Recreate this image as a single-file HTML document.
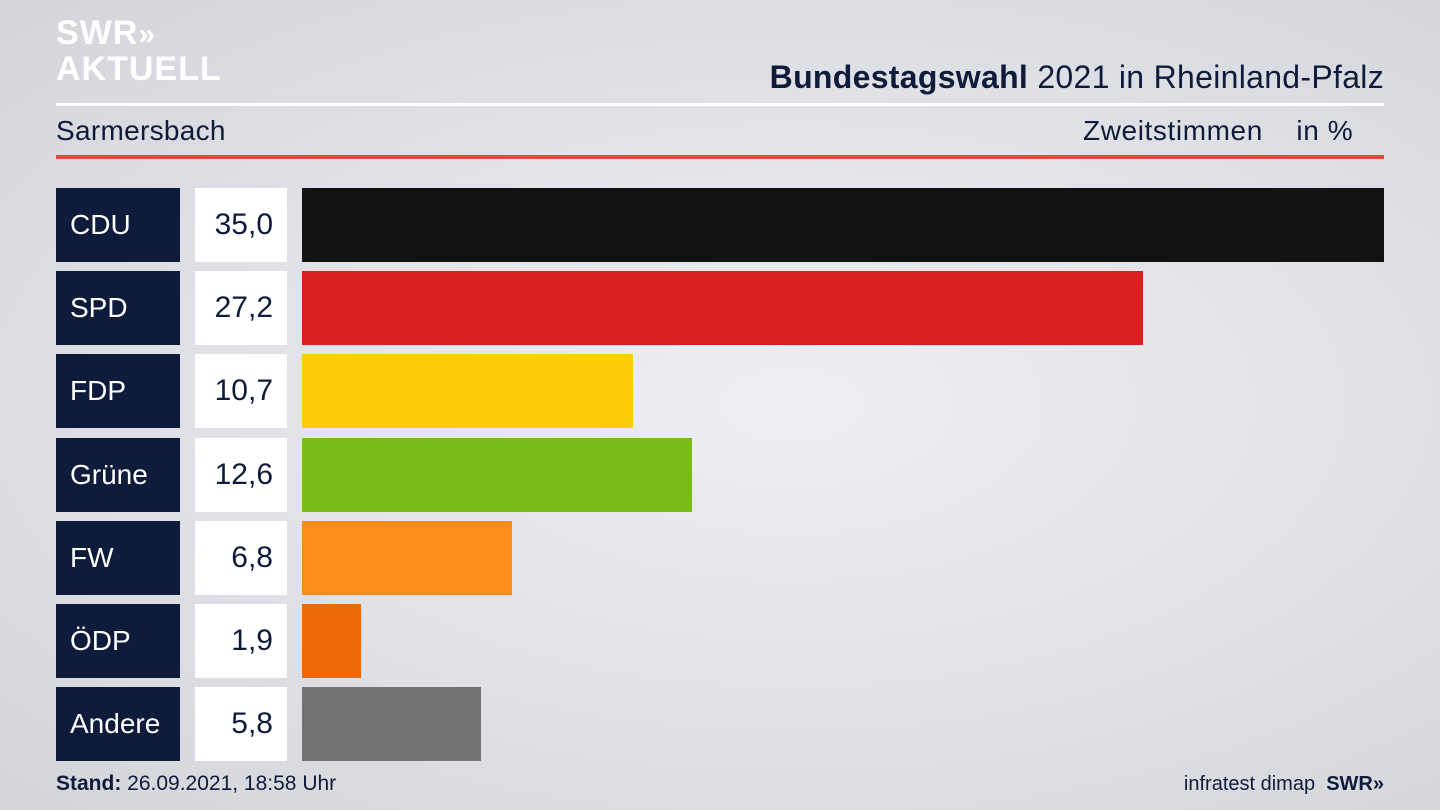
<!DOCTYPE html>
<html><head><meta charset="utf-8"><style>
body{margin:0;width:1440px;height:810px;overflow:hidden;font-family:"Liberation Sans","DejaVu Sans",sans-serif;background:radial-gradient(ellipse at 55% 50%,#eeeff3 0%,#e0e1e6 55%,#d3d5da 100%);position:relative;color:#0f1b3a}
.abs{position:absolute}
</style></head><body>
<div class="abs" style="left:56px;top:16px;color:#fff;font-weight:bold;font-size:34px;line-height:34px;letter-spacing:1px">SWR<span style="font-size:30px">»</span><br>AKTUELL</div>
<div class="abs" style="right:56px;top:59px;font-size:32px;letter-spacing:0.3px;white-space:nowrap"><b>Bundestagswahl</b> 2021 in Rheinland-Pfalz</div>
<div class="abs" style="left:56px;top:103px;width:1328px;height:3px;background:#fff"></div>
<div class="abs" style="left:56px;top:115px;font-size:28px;letter-spacing:0.3px">Sarmersbach</div>
<div class="abs" style="left:1083px;top:115px;font-size:28px;letter-spacing:0.6px;white-space:nowrap">Zweitstimmen&nbsp;&nbsp;&nbsp;&nbsp;in %</div>
<div class="abs" style="left:56px;top:155px;width:1328px;height:4px;background:#d3513c"></div>
<div id="chart"></div>
<div class="abs" style="left:56px;top:772px;font-size:21px"><b>Stand:</b> 26.09.2021, 18:58 Uhr</div>
<div class="abs" style="right:56px;top:773px;font-size:20px;white-space:nowrap">infratest dimap&nbsp; <b>SWR»</b></div>
<script>
const parties=["CDU","SPD","FDP","Grüne","FW","ÖDP","Andere"];
const values=[35.0,27.2,10.7,12.6,6.8,1.9,5.8];
const colors=["#121212","#d91f20","#fecd0a","#79bd1b","#fe8c18","#ee6a07","#737373"];
const chart=document.getElementById('chart');
const x0=302,maxW=1082,maxV=35.0,top0=188,pitch=83.2,h=74;
function xs(v){return v/maxV*maxW;}
parties.forEach((p,i)=>{
  const y=top0+i*pitch;
  const lab=document.createElement('div');
  lab.className='abs';
  
  
  lab.style.cssText=`left:56px;top:${y}px;width:110px;height:${h}px;background:#0f1b3a;color:#fff;font-size:28px;line-height:${h}px;padding-left:14px`;
  lab.textContent=p;chart.appendChild(lab);
  const val=document.createElement('div');
  val.className='abs';
  
  
  val.style.cssText=`left:195px;top:${y}px;width:78px;height:${h}px;background:#fff;font-size:30px;line-height:${h}px;text-align:right;padding-right:14px`;
  val.textContent=values[i].toFixed(1).replace('.',',');chart.appendChild(val);
  const bar=document.createElement('div');
  bar.className='abs';
  
  
  bar.style.cssText=`left:${x0}px;top:${y}px;width:${xs(values[i])}px;height:${h}px;background:${colors[i]}`;
  chart.appendChild(bar);
});
</script>
</body></html>
